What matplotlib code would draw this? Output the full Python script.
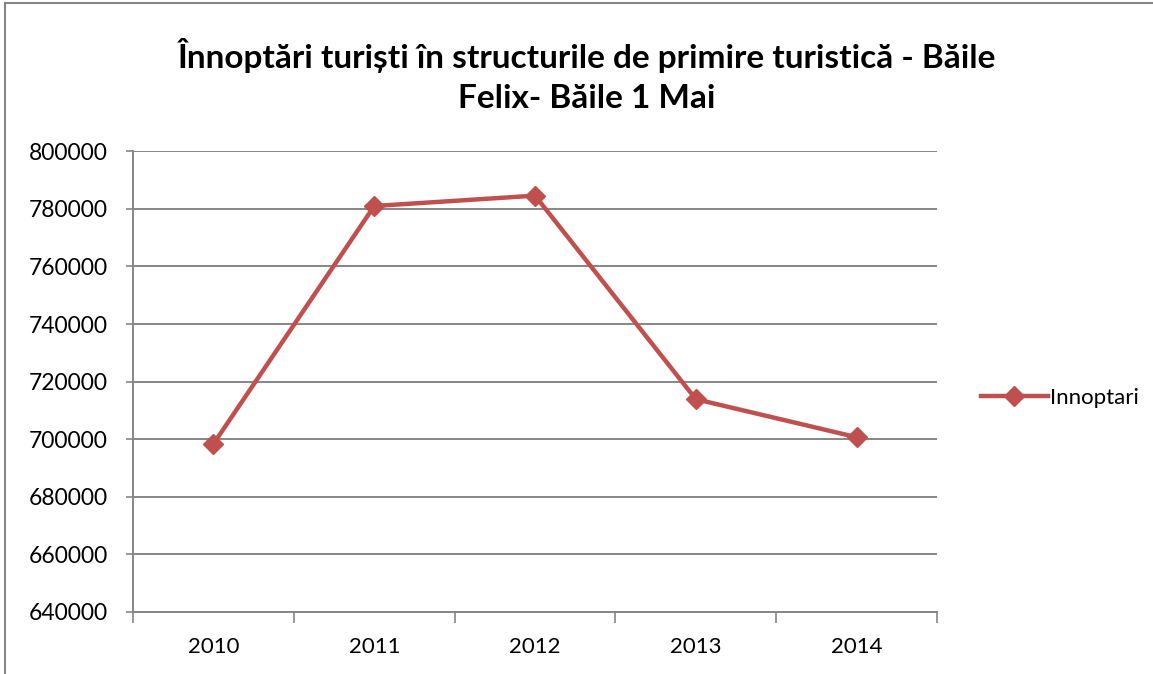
import matplotlib.pyplot as plt
from matplotlib.lines import Line2D

years = ['2010', '2011', '2012', '2013', '2014']
innoptari = [698400, 781000, 784600, 713900, 700700]
y_ticks = [640000, 660000, 680000, 700000, 720000, 740000, 760000, 780000, 800000]

red = '#C0504D'
grid = '#868686'
plt.rcParams['font.family'] = ['Lato', 'DejaVu Sans']

fig = plt.figure(figsize=(11.53, 6.74), dpi=100)
ax = fig.add_axes([0.1154, 0.092, 0.6973, 0.6835])

x = range(len(years))
ax.plot(x, innoptari, color=red, lw=3.2, marker='D', ms=10.5, label='Innoptari')

ax.set_xlim(-0.5, len(years) - 0.5)
ax.set_ylim(640000, 800000)
ax.set_yticks(y_ticks)
ax.set_yticklabels([str(v) for v in y_ticks])
ax.yaxis.grid(True, color=grid, lw=1.4)
ax.set_axisbelow(True)

# category labels between the tick marks
ax.set_xticks([i - 0.5 for i in range(len(years) + 1)])
ax.set_xticklabels([])
ax.set_xticks(list(x), minor=True)
ax.set_xticklabels(years, minor=True)
ax.tick_params(axis='x', which='major', length=8, color=grid, width=1.2)
ax.tick_params(axis='x', which='minor', length=0, labelsize=16, pad=18)
ax.tick_params(axis='y', length=5, color=grid, width=1.2, labelsize=16.5, pad=13)

for s in ['top', 'right']:
    ax.spines[s].set_visible(False)
for s in ['left', 'bottom']:
    ax.spines[s].set_color(grid)
    ax.spines[s].set_linewidth(1.4)

fig.text(0.509, 0.888, 'Înnoptări turiști în structurile de primire turistică - Băile\nFelix- Băile 1 Mai',
         ha='center', va='center', fontsize=24, fontweight='bold', linespacing=1.45)

ax.legend(handles=[Line2D([], [], color=red, lw=3.2, marker='D', ms=10.5)], labels=['Innoptari'],
          loc='center left', bbox_to_anchor=(1.03, 0.465), frameon=False, fontsize=16,
          handlelength=3.0, handletextpad=0.1)

# chart border
fig.add_artist(Line2D([5 / 1153, 5 / 1153], [0, 1 - 3 / 674], color=grid, lw=1.5))
fig.add_artist(Line2D([5 / 1153, 1], [1 - 3 / 674, 1 - 3 / 674], color=grid, lw=1.5))

fig.savefig('out.png', dpi=100)
